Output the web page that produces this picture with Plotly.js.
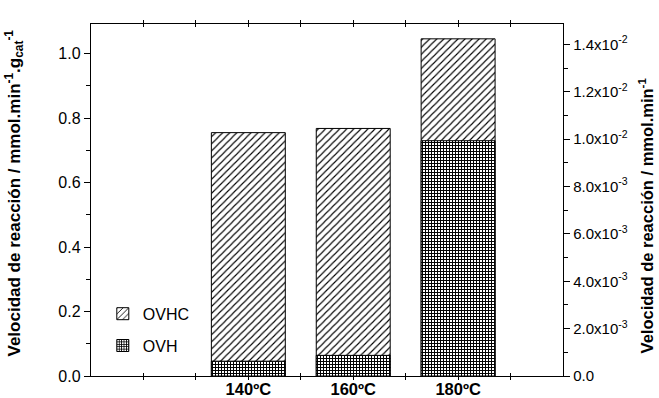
<!DOCTYPE html>
<html>
<head>
<meta charset="utf-8">
<script src="https://cdn.plot.ly/plotly-3.0.1.min.js"></script>
<style>html,body{margin:0;padding:0;background:#fff;}#chart{width:659px;height:398px;}</style>
</head>
<body>
<div id="chart"></div>
<script>
// Data
const categories = ['140ºC', '160ºC', '180ºC'];
const positions = [3, 5, 7];
const ovhcTotal = [0.755, 0.768, 1.046];   // OVHC bar heights (left axis units)
const ovh = [0.046, 0.064, 0.730];         // OVH bar heights (left axis units)
const minorPositions = [1, 2, 3, 4, 5, 6, 7, 8];
const leftTickVals = [0, 0.2, 0.4, 0.6, 0.8, 1.0];
const rightTickVals = [0, 0.002, 0.004, 0.006, 0.008, 0.010, 0.012, 0.014];
const rightTickText = ['0.0', '2.0x10<sup>-3</sup>', '4.0x10<sup>-3</sup>', '6.0x10<sup>-3</sup>',
  '8.0x10<sup>-3</sup>', '1.0x10<sup>-2</sup>', '1.2x10<sup>-2</sup>', '1.4x10<sup>-2</sup>'];
const leftTitle = 'Velocidad de reacción / mmol.min<sup>-1</sup>.g<sub>cat</sub><sup>-1</sup>';
const rightTitle = 'Velocidad de reacción / mmol.min<sup>-1</sup>';

const xTickText = minorPositions.map(p => {
  const i = positions.indexOf(p);
  return i >= 0 ? categories[i] : '';
});

const font = 'Liberation Sans, Arial, sans-serif';

const traces = [
  {
    type: 'bar', name: 'OVHC', legendgroup: 'a', x: positions, y: ovhcTotal, width: 1.41,
    marker: { color: 'white', line: { color: 'black', width: 1 },
      pattern: { shape: '/', fgcolor: 'black', bgcolor: 'white', size: 5, solidity: 0.22 } },
    hoverinfo: 'skip'
  },
  {
    type: 'bar', name: 'OVH', legendgroup: 'b', x: positions, y: ovh, width: 1.41,
    marker: { color: 'white', line: { color: 'black', width: 1 },
      pattern: { shape: '+', fgcolor: 'black', bgcolor: 'white', size: 3, solidity: 0.55 } },
    hoverinfo: 'skip'
  },
  {
    // empty trace so that the right-hand axis is drawn
    type: 'scatter', mode: 'markers', x: [], y: [], yaxis: 'y2', showlegend: false, hoverinfo: 'skip'
  }
];

const layout = {
  width: 659, height: 398,
  margin: { l: 91, r: 96, t: 24, b: 22 },
  paper_bgcolor: 'white', plot_bgcolor: 'white',
  barmode: 'overlay',
  font: { family: font, size: 15, color: 'black' },
  showlegend: true,
  legend: { x: 0.025, y: 0.225, xanchor: 'left', yanchor: 'top', bgcolor: 'rgba(0,0,0,0)',
    traceorder: 'grouped', tracegroupgap: 8,
    font: { family: font, size: 16, color: 'black' }, itemwidth: 30 },
  xaxis: {
    range: [0, 9], showgrid: false, zeroline: false,
    showline: true, linecolor: 'black', linewidth: 1.2, mirror: 'allticks',
    tickvals: minorPositions, ticktext: xTickText,
    ticks: 'inside', ticklen: 3, tickcolor: 'black', tickwidth: 1,
    ticklabelstandoff: -2,
    tickfont: { family: font, size: 16.5, color: 'black', weight: 'bold' },
    layer: 'below traces'
  },
  yaxis: {
    range: [0, 1.092], showgrid: false, zeroline: false,
    showline: true, linecolor: 'black', linewidth: 1.2,
    tickvals: leftTickVals, tickformat: '.1f',
    ticks: 'outside', ticklen: 6, tickcolor: 'black', tickwidth: 1,
    minor: { tickvals: [0.1, 0.3, 0.5, 0.7, 0.9], ticks: 'outside', ticklen: 4, tickcolor: 'black' },
    tickfont: { family: font, size: 16, color: 'black' }
  },
  yaxis2: {
    overlaying: 'y', side: 'right', anchor: 'x',
    range: [0, 0.01486], showgrid: false, zeroline: false,
    showline: true, linecolor: 'black', linewidth: 1.2,
    tickvals: rightTickVals, ticktext: rightTickText,
    ticks: 'outside', ticklen: 6, tickcolor: 'black', tickwidth: 1,
    minor: { tickvals: [0.001, 0.003, 0.005, 0.007, 0.009, 0.011, 0.013], ticks: 'outside', ticklen: 4, tickcolor: 'black' },
    tickfont: { family: font, size: 15, color: 'black' }
  },
  annotations: [
    { text: leftTitle, textangle: -90, xref: 'paper', yref: 'paper', x: -0.162, y: 0.52,
      xanchor: 'center', yanchor: 'middle', showarrow: false,
      font: { family: font, size: 17, color: 'black', weight: 'bold' } },
    { text: rightTitle, textangle: -90, xref: 'paper', yref: 'paper', x: 1.175, y: 0.455,
      xanchor: 'center', yanchor: 'middle', showarrow: false,
      font: { family: font, size: 16.5, color: 'black', weight: 'bold' } }
  ]
};

Plotly.newPlot('chart', traces, layout, { displayModeBar: false, staticPlot: true });
</script>
</body>
</html>
